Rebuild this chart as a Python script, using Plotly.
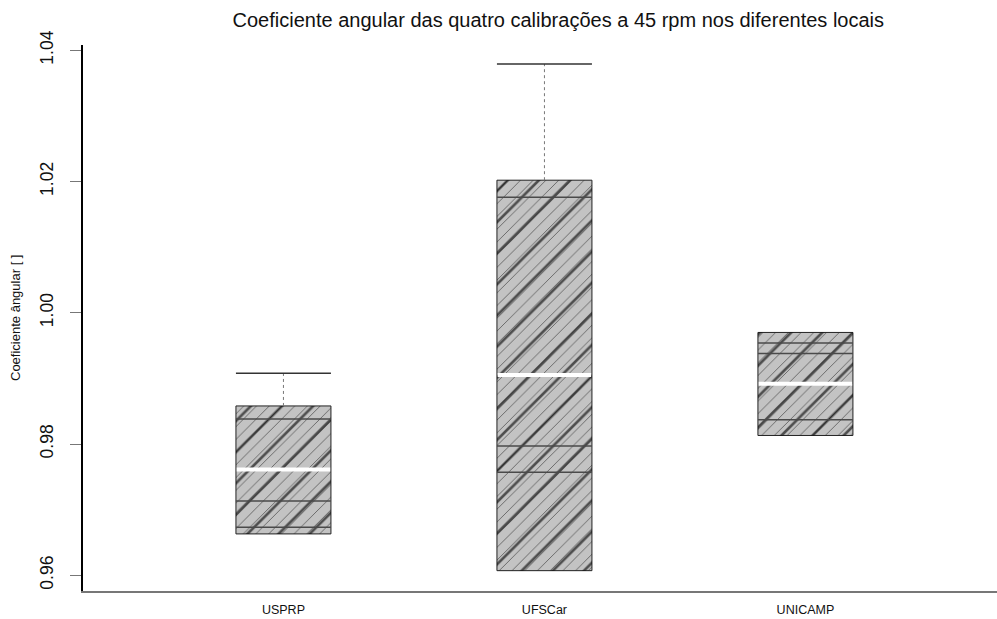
import plotly.graph_objects as go

# ---- data ----
categories = ["USPRP", "UFSCar", "UNICAMP"]
positions = [1, 2, 3]
box_low = [0.9663, 0.9607, 0.9813]
box_high = [0.9858, 1.0202, 0.9970]
medians = [0.9761, 0.9905, 0.9892]
whisker_high = [0.9908, 1.0379, None]
inner_lines = [
    [0.9838, 0.9713, 0.9673],
    [1.0176, 0.9797, 0.9757],
    [0.9954, 0.9938, 0.9837],
]
y_ticks = [0.96, 0.98, 1.00, 1.02, 1.04]

BOX_W = 0.364
FONT = "Liberation Sans, Arial, Helvetica, sans-serif"

fig = go.Figure()

heights = [h - l for h, l in zip(box_high, box_low)]

# base box with thin hatching
fig.add_trace(go.Bar(
    x=positions, y=heights, base=box_low, width=BOX_W,
    marker=dict(color="#c3c3c3",
                pattern=dict(shape="/", size=9, fgcolor="black", bgcolor="#c3c3c3", solidity=0.1),
                line=dict(color="#222222", width=1)),
    hoverinfo="skip",
))
# overlay thick dotted-looking hatching
fig.add_trace(go.Bar(
    x=positions, y=heights, base=box_low, width=BOX_W,
    marker=dict(color="rgba(0,0,0,0)",
                pattern=dict(shape="/", size=22, fgcolor="black", bgcolor="rgba(0,0,0,0)",
                              solidity=0.12, fgopacity=0.6),
                line=dict(width=0)),
    hoverinfo="skip",
))

for p, lines in zip(positions, inner_lines):
    for v in lines:
        fig.add_trace(go.Scatter(x=[p - BOX_W / 2, p + BOX_W / 2], y=[v, v], mode="lines",
                                 line=dict(color="#4a4a4a", width=1.5), hoverinfo="skip"))

for p, lo, hi, wh in zip(positions, box_low, box_high, whisker_high):
    if wh is not None:
        fig.add_trace(go.Scatter(x=[p, p], y=[hi, wh], mode="lines",
                                 line=dict(color="#777777", width=1, dash="dot"), hoverinfo="skip"))
        fig.add_trace(go.Scatter(x=[p - BOX_W / 2, p + BOX_W / 2], y=[wh, wh], mode="lines",
                                 line=dict(color="#333333", width=1.5), hoverinfo="skip"))

for p, m in zip(positions, medians):
    fig.add_trace(go.Scatter(x=[p - BOX_W / 2 + 0.003, p + BOX_W / 2 - 0.003], y=[m, m], mode="lines",
                             line=dict(color="white", width=4), hoverinfo="skip"))

fig.update_layout(
    width=997, height=619,
    margin=dict(l=83, r=0, t=45, b=28),
    barmode="overlay",
    showlegend=False,
    plot_bgcolor="white", paper_bgcolor="white",
    font=dict(family=FONT, color="#111111"),
    title=dict(text="Coeficiente angular das quatro calibrações a 45 rpm nos diferentes locais",
               x=0.52, xref="paper", xanchor="center", y=0.967, yanchor="middle",
               font=dict(size=20, family=FONT, color="#111111")),
    xaxis=dict(range=[0.232, 3.734], tickmode="array", tickvals=positions, ticktext=categories,
               showgrid=False, zeroline=False, ticks="", showline=True, linecolor="#777777",
               linewidth=2, ticklabelstandoff=6,
               tickfont=dict(size=12.5, family=FONT, color="#111111")),
    yaxis=dict(range=[0.9576, 1.0408], tickmode="array", tickvals=y_ticks,
               ticktext=[f"{t:.2f}" for t in y_ticks], tickangle=-90,
               showgrid=False, zeroline=False, ticks="outside", ticklen=11, tickcolor="#777777",
               showline=True, linecolor="black", linewidth=2, ticklabelstandoff=10,
               tickfont=dict(size=17.5, family=FONT, color="#111111")),
    annotations=[dict(text="Coeficiente ângular [ ]", x=-0.0744, y=0.5, xref="paper", yref="paper",
                      textangle=-90, showarrow=False, xanchor="center", yanchor="middle",
                      font=dict(size=13, family=FONT, color="#111111"))],
)

fig.write_html("out.html")
